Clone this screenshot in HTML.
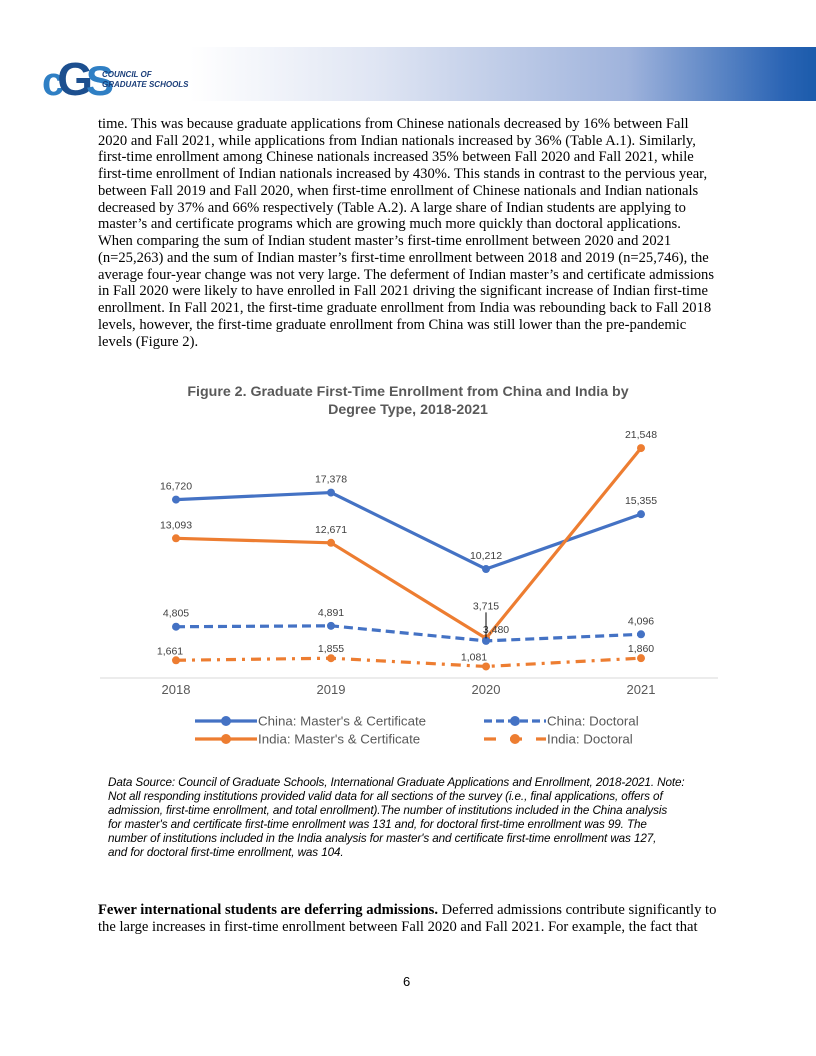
<!DOCTYPE html>
<html><head><meta charset="utf-8"><style>
body{margin:0;background:#fff;}
#page{position:relative;width:816px;height:1056px;overflow:hidden;background:#fff;}
.band{position:absolute;left:190px;top:47px;width:626px;height:54px;background:linear-gradient(90deg,#fff 0%,#dfe5f3 30%,#9fb3dc 70%,#2a64b4 95%,#1b5bab 100%);}
.t{position:absolute;left:98px;font-family:"Liberation Serif",serif;font-size:14.6px;white-space:nowrap;color:#000;line-height:17px;}
.c{position:absolute;left:108px;font-family:"Liberation Sans",sans-serif;font-style:italic;font-size:11.7px;white-space:nowrap;color:#000;line-height:14px;letter-spacing:-0.1px;}
</style></head><body>
<div id="page">
<div class="band"></div>
<div style="position:absolute;left:42px;top:52px;font-family:'Liberation Sans',sans-serif;white-space:nowrap;">
 <span style="font-size:40px;font-weight:bold;color:#2f7fc4;letter-spacing:-7px;">c</span><span style="font-size:46px;font-weight:bold;color:#1c4f8f;letter-spacing:-7px;">G</span><span style="font-size:42px;font-weight:bold;color:#2f7fc4;">S</span>
 <div style="position:absolute;left:60px;top:18px;font-size:8px;font-weight:bold;color:#1c3f7a;font-style:italic;line-height:10px;white-space:nowrap;">COUNCIL OF<br>GRADUATE SCHOOLS</div>
</div>
<div>
<div class="t" style="top:116px">time. This was because graduate applications from Chinese nationals decreased by 16% between Fall</div>
<div class="t" style="top:133px">2020 and Fall 2021, while applications from Indian nationals increased by 36% (Table A.1). Similarly,</div>
<div class="t" style="top:149px">first-time enrollment among Chinese nationals increased 35% between Fall 2020 and Fall 2021, while</div>
<div class="t" style="top:166px">first-time enrollment of Indian nationals increased by 430%. This stands in contrast to the pervious year,</div>
<div class="t" style="top:183px">between Fall 2019 and Fall 2020, when first-time enrollment of Chinese nationals and Indian nationals</div>
<div class="t" style="top:200px">decreased by 37% and 66% respectively (Table A.2). A large share of Indian students are applying to</div>
<div class="t" style="top:216px">master’s and certificate programs which are growing much more quickly than doctoral applications.</div>
<div class="t" style="top:233px">When comparing the sum of Indian student master’s first-time enrollment between 2020 and 2021</div>
<div class="t" style="top:250px">(n=25,263) and the sum of Indian master’s first-time enrollment between 2018 and 2019 (n=25,746), the</div>
<div class="t" style="top:267px">average four-year change was not very large. The deferment of Indian master’s and certificate admissions</div>
<div class="t" style="top:283px">in Fall 2020 were likely to have enrolled in Fall 2021 driving the significant increase of Indian first-time</div>
<div class="t" style="top:300px">enrollment. In Fall 2021, the first-time graduate enrollment from India was rebounding back to Fall 2018</div>
<div class="t" style="top:317px">levels, however, the first-time graduate enrollment from China was still lower than the pre-pandemic</div>
<div class="t" style="top:334px">levels (Figure 2).</div>
</div>
<svg id="chart" style="position:absolute;left:0;top:370px" width="816" height="400"></svg>
<div>
<div class="c" style="top:776px">Data Source: Council of Graduate Schools, International Graduate Applications and Enrollment, 2018-2021. Note:</div>
<div class="c" style="top:790px">Not all responding institutions provided valid data for all sections of the survey (i.e., final applications, offers of</div>
<div class="c" style="top:804px">admission, first-time enrollment, and total enrollment).The number of institutions included in the China analysis</div>
<div class="c" style="top:818px">for master's and certificate first-time enrollment was 131 and, for doctoral first-time enrollment was 99. The</div>
<div class="c" style="top:832px">number of institutions included in the India analysis for master's and certificate first-time enrollment was 127,</div>
<div class="c" style="top:846px">and for doctoral first-time enrollment, was 104.</div>
</div>
<div>
<div class="t" style="top:902px"><b>Fewer international students are deferring admissions.</b> Deferred admissions contribute significantly to</div>
<div class="t" style="top:919px">the large increases in first-time enrollment between Fall 2020 and Fall 2021. For example, the fact that</div>
</div>
<div style="position:absolute;left:403px;top:974px;font-family:'Liberation Sans',sans-serif;font-size:13px;">6</div>
</div>
<script>
const years=["2018","2019","2020","2021"];
const chinaMasters=[16720,17378,10212,15355];
const indiaMasters=[13093,12671,3715,21548];
const chinaDoctoral=[4805,4891,3480,4096];
const indiaDoctoral=[1661,1855,1081,1860];
const svg=document.getElementById('chart');
const NS='http://www.w3.org/2000/svg';
const OY=370;
function x(i){return 176+i*155;}
function y(v){return 678-OY-v*0.01067;}
function el(tag,a,txt){const e=document.createElementNS(NS,tag);for(const k in a)e.setAttribute(k,a[k]);if(txt!==undefined)e.textContent=txt;svg.appendChild(e);return e;}
const F='"Liberation Sans","DejaVu Sans",sans-serif';
let t=el('text',{x:408,y:400-OY-4,'text-anchor':'middle','font-family':F,'font-size':14.2,'font-weight':'bold',fill:'#595959'},'Figure 2. Graduate First-Time Enrollment from China and India by');

t=el('text',{x:408,y:416-OY-2,'text-anchor':'middle','font-family':F,'font-size':14.2,'font-weight':'bold',fill:'#595959'},'Degree Type, 2018-2021');

let ax=el('line',{x1:100,x2:718,y1:678-OY,y2:678-OY,stroke:'#d9d9d9','stroke-width':1});

years.forEach((yr,i)=>{const e=el('text',{x:x(i),y:694-OY,'text-anchor':'middle','font-family':F,'font-size':13,fill:'#595959'},yr);
});
const series=[
{d:chinaMasters,c:'#4472c4',dash:'',name:'china-masters',lab:[[0,-10],[0,-10],[0,-10],[0,-10]]},
{d:indiaMasters,c:'#ed7d31',dash:'',name:'india-masters',lab:[[0,-10],[0,-10],[0,-29],[0,-10]]},
{d:chinaDoctoral,c:'#4472c4',dash:'9,5',name:'china-doctoral',lab:[[0,-10],[0,-10],[10,-8],[0,-10]]},
{d:indiaDoctoral,c:'#ed7d31',dash:'10,6,3,6',name:'india-doctoral',lab:[[-6,-6],[0,-6],[-12,-6],[0,-6]]}];
series.forEach(s=>{
 const p=el('polyline',{points:s.d.map((v,i)=>x(i)+','+y(v)).join(' '),fill:'none',stroke:s.c,'stroke-width':3.2,'stroke-dasharray':s.dash,'stroke-linejoin':'round'});
 
 s.d.forEach((v,i)=>{
  const m=el('circle',{cx:x(i),cy:y(v),r:4,fill:s.c});
  
  const l=el('text',{x:x(i)+s.lab[i][0],y:y(v)+s.lab[i][1],'text-anchor':'middle','font-family':F,'font-size':10.5,fill:'#404040'},v.toLocaleString('en-US'));
  
 });
});
let ld=el('line',{x1:x(2),x2:x(2),y1:y(3715)-26,y2:y(3715),stroke:'#000','stroke-width':1});

const legend=[['China: Master\'s & Certificate','#4472c4','',195,721],['India: Master\'s & Certificate','#ed7d31','',195,739],['China: Doctoral','#4472c4','8,4',484,721],['India: Doctoral','#ed7d31','12,14',484,739]];
legend.forEach(L=>{
 const g=el('line',{x1:L[3],x2:L[3]+62,y1:L[4]-OY,y2:L[4]-OY,stroke:L[1],'stroke-width':3.2,'stroke-dasharray':L[2]});
 
 const c=el('circle',{cx:L[3]+31,cy:L[4]-OY,r:5,fill:L[1]});
 
 const tx=el('text',{x:L[3]+63,y:L[4]-OY+4.5,'font-family':F,'font-size':13.3,fill:'#595959'},L[0]);
 
});
</script>
</body></html>
